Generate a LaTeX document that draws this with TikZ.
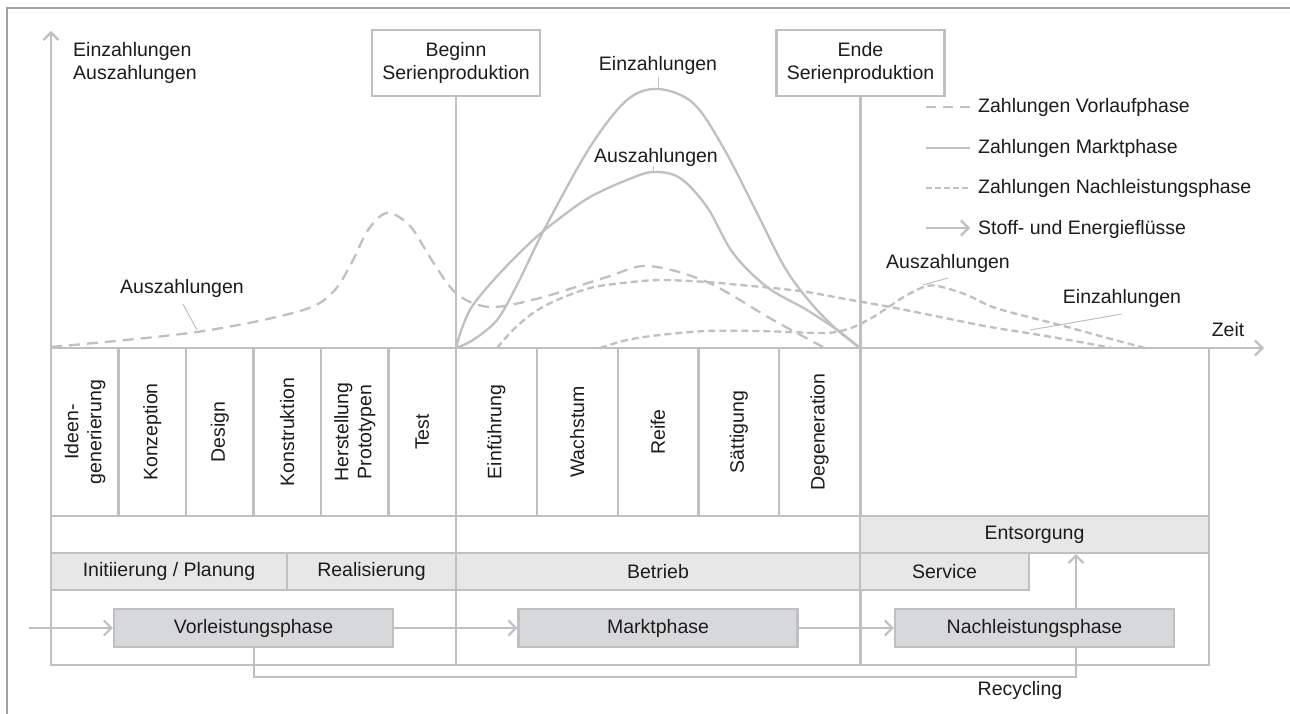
\documentclass[tikz,border=0pt]{standalone}
\usepackage{fontspec}
\setmainfont{Liberation Sans}
\usetikzlibrary{arrows.meta}
\definecolor{ln}{RGB}{192,192,194}
\definecolor{frm}{RGB}{160,160,160}
\definecolor{fillA}{RGB}{231,231,231}
\definecolor{fillB}{RGB}{215,216,218}
\definecolor{txt}{RGB}{30,27,28}
\begin{document}
\begin{tikzpicture}[x=1pt,y=-1pt,
  every node/.style={text=txt,font=\fontsize{19.5}{23}\selectfont,inner sep=0pt},
  grid/.style={draw=ln,line width=2.2pt},
  curve/.style={draw=ln,line width=2.3pt},
  longdash/.style={curve,dash pattern=on 11pt off 7pt},
  shortdash/.style={curve,dash pattern=on 7pt off 4pt},
  leader/.style={draw=ln,line width=1pt},
  barb/.style={-{Straight Barb[length=7.5pt,width=15pt,line width=2.2pt]}},
  flow/.style={grid,barb},
  colcell/.style={draw=ln,line width=2.2pt,rotate=90,minimum width=168pt,align=center},
  rowcell/.style={draw=ln,line width=2.2pt,fill=fillA,minimum height=37pt},
  phasebox/.style={draw=ln,line width=2.2pt,fill=fillB,minimum height=38pt,minimum width=279pt},
  headbox/.style={draw=ln,line width=2.2pt,fill=white,minimum width=168pt,minimum height=66pt,align=center},
  lbl/.style={anchor=base}
]
\useasboundingbox (0,0) rectangle (1290,714);
\fill[white] (0,0) rectangle (1290,714);
% frame
\draw[frm,line width=1.5pt] (7,714) -- (7,8) -- (1290,8);

% axes
\coordinate (O) at (51,348);
\coordinate (ytop) at (51,31);
\coordinate (xend) at (1264,348);
\draw[grid,barb] (O) -- (ytop);
\draw[grid,barb] (O) -- (xend);
\node[anchor=base west,align=left] (yl1) at (73,57) {Einzahlungen};
\node[anchor=base west,align=left] (yl2) at (73,80) {Auszahlungen};
\node[lbl] (zeit) at (1228,336) {Zeit};

% curves: Vorlaufphase (long dash)
\draw[longdash] plot[smooth,tension=0.55] coordinates {(51,347) (197,332) (300,311) (333,292) (352,262) (368,230) (387,213) (410,226) (433,262) (457,294) (490,307) (540,298) (607,277) (648,266) (707,282) (773,320) (823,347)};
% Marktphase (solid)
\draw[curve] plot[smooth,tension=0.55] coordinates {(456,348) (473,340) (497,320) (517,285) (545,228) (590,147) (627,100) (658,89) (693,103) (723,147) (757,213) (785,268) (810,302) (835,328) (860,348)};
\draw[curve] plot[smooth,tension=0.55] coordinates {(456,348) (462,328) (473,305) (500,273) (533,240) (560,218) (590,197) (627,180) (653,172) (680,178) (707,207) (733,253) (767,287) (807,310) (840,332) (860,348)};
% Nachleistungsphase (short dash)
\draw[shortdash] plot[smooth,tension=0.55] coordinates {(497,348) (513,330) (533,313) (557,300) (590,288) (623,283) (660,280) (707,282) (740,285) (773,288) (807,292) (840,298) (890,307) (940,317) (990,327) (1040,335) (1080,342) (1112,348)};
\draw[shortdash] plot[smooth,tension=0.55] coordinates {(600,348) (627,340) (660,335) (707,331) (757,331) (790,332) (827,333) (848,329) (862,323) (875,316) (890,306) (907,295) (927,286) (942,287) (967,295) (990,306) (1013,313) (1060,325) (1100,336) (1145,348)};

% curve labels
\node[lbl] (la) at (182,293) {Auszahlungen};
\draw[leader] (183,304) coordinate (la1) -- (197,330) coordinate (la2);
\node[lbl] (te) at (658,71) {Einzahlungen};
\draw[leader] (658,77) coordinate (te1) -- (658,89) coordinate (te2);
\node[lbl] (ta) at (656,163) {Auszahlungen};
\draw[leader] (653,166) coordinate (ta1) -- (653,172) coordinate (ta2);
\node[lbl] (ra) at (948,268) {Auszahlungen};
\draw[leader] (948,278) coordinate (ra1) -- (923,285) coordinate (ra2);
\node[lbl] (re) at (1122,303) {Einzahlungen};
\draw[leader] (1122,314) coordinate (re1) -- (1030,330) coordinate (re2);

% legend
\node[anchor=base west] (lg1) at (978,113) {Zahlungen Vorlaufphase};
\node[anchor=base west] (lg2) at (978,154) {Zahlungen Marktphase};
\node[anchor=base west] (lg3) at (978,194) {Zahlungen Nachleistungsphase};
\node[anchor=base west] (lg4) at (978,234) {Stoff- und Energieflüsse};
\draw[longdash,line width=2pt,dash pattern=on 10pt off 7pt] (926,107) -- (970,107);
\draw[curve,line width=2pt] (926,148) -- (970,148);
\draw[shortdash,line width=2pt,dash pattern=on 6pt off 3pt] (926,188) -- (970,188);
\draw[flow] (926,228) -- (970,228);

% header boxes and milestone lines
\node[headbox] (bsp) at (456,63) {Beginn\\Serienproduktion};
\node[headbox] (esp) at (860.5,63) {Ende\\Serienproduktion};
\draw[grid] (bsp.south) -- (bsp.south |- 0,665);
\draw[grid] (esp.south) -- (esp.south |- 0,665);

% phase columns
\node[colcell,minimum height=67.5pt] (c1) at (84.75,432) {Ideen-\\generierung};
\node[colcell,minimum height=67.5pt] (c2) at (152.25,432) {Konzeption};
\node[colcell,minimum height=67.5pt] (c3) at (219.75,432) {Design};
\node[colcell,minimum height=67.5pt] (c4) at (287.25,432) {Konstruktion};
\node[colcell,minimum height=67.5pt] (c5) at (354.75,432) {Herstellung\\Prototypen};
\node[colcell,minimum height=67.5pt] (c6) at (422.25,432) {Test};
\node[colcell,minimum height=80.8pt] (m1) at (496.4,432) {Einführung};
\node[colcell,minimum height=80.8pt] (m2) at (577.2,432) {Wachstum};
\node[colcell,minimum height=80.8pt] (m3) at (658,432) {Reife};
\node[colcell,minimum height=80.8pt] (m4) at (738.8,432) {Sättigung};
\node[colcell,minimum height=80.8pt] (m5) at (819.6,432) {Degeneration};

% rows
\node[rowcell,minimum width=349pt] (ent) at (1034.5,534.5) {Entsorgung};
\node[rowcell,minimum width=236pt] (ip) at (169,571.5) {Initiierung / Planung};
\node[rowcell,minimum width=169pt] (real) at (371.5,571.5) {Realisierung};
\node[rowcell,minimum width=404pt] (betr) at (658,571.5) {Betrieb};
\node[rowcell,minimum width=169pt] (serv) at (944.5,571.5) {Service};

% table outline
\draw[grid] (51,348) -- (51,665) -- (1209,665) -- (1209,348);
\draw[grid] (51,516) -- (1209,516);
\draw[grid] (51,553) -- (860,553);

% phase boxes and flows
\node[phasebox] (V) at (253.5,628) {Vorleistungsphase};
\node[phasebox] (M) at (658,628) {Marktphase};
\node[phasebox] (N) at (1034.5,628) {Nachleistungsphase};
\coordinate (in) at (29,628);
\coordinate (rc) at (1076,677);
\coordinate (rv) at (254,677);
\draw[flow] (in) -- (V);
\draw[flow] (V) -- (M);
\draw[flow] (M) -- (N);
\draw[flow] (N.north -| rc) -- (ent.south -| rc);
\draw[grid] (N.south -| rc) -- (rc) -- (rv) -- (V.south -| rv);
\node[lbl] (rec) at (1020,695) {Recycling};
\end{tikzpicture}
\end{document}
